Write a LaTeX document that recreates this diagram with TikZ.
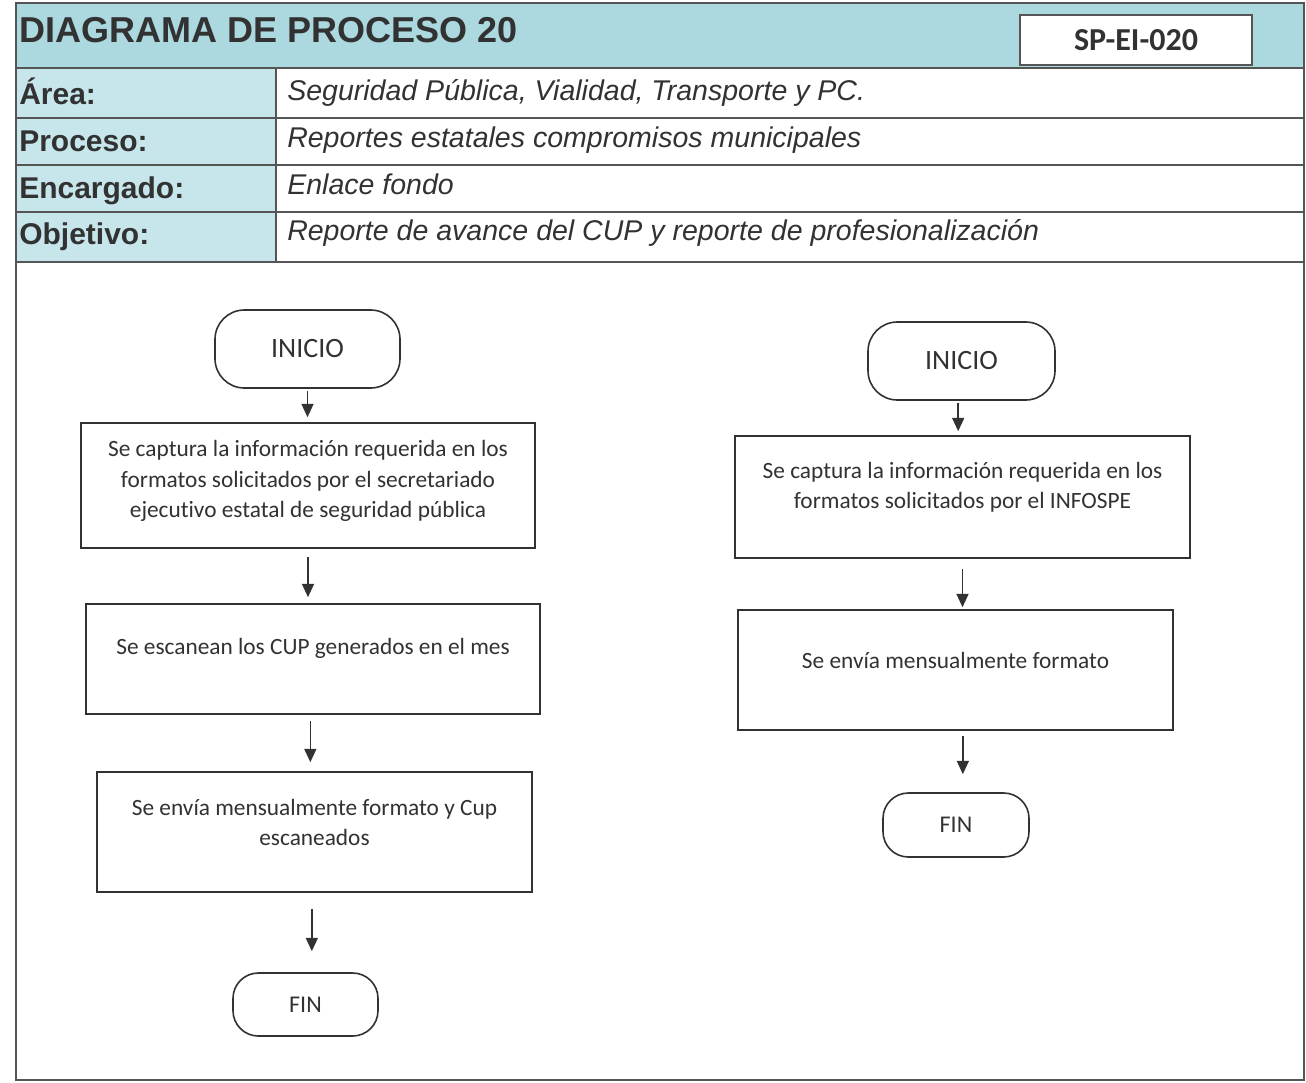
\documentclass[tikz,border=0pt]{standalone}
\usepackage{fontspec}
\setmainfont{Liberation Sans}
\newfontfamily\calfont[Ligatures=NoCommon]{Carlito}
\usetikzlibrary{arrows.meta}
\definecolor{ink}{RGB}{50,50,50}
\definecolor{hdr}{RGB}{172,216,223}
\definecolor{lbl}{RGB}{198,230,235}
\definecolor{framec}{RGB}{85,85,85}
\begin{document}
\begin{tikzpicture}[x=0.75pt,y=-0.75pt,
  term/.style={draw=ink, line width=1.2pt, rounded corners=22pt, fill=white, inner sep=0pt,
               font=\calfont\fontsize{21}{25}\selectfont, text=ink},
  stepbox/.style={draw=ink, line width=1.2pt, inner sep=0pt, fill=white},
  ftext/.style={font=\calfont\fontsize{17.5}{22.8}\selectfont, text=ink, align=center, inner sep=0pt},
  arr/.style={draw=ink, line width=1.1pt, -{Triangle[length=10pt,width=9pt]}},
  lab/.style={font=\bfseries\fontsize{22.5}{27}\selectfont, text=ink, anchor=base west, inner sep=0pt},
  val/.style={font=\itshape\fontsize{21.4}{26}\selectfont, text=ink, anchor=base west, inner sep=0pt},
  rule/.style={draw=framec, line width=1.5pt}]
\useasboundingbox (0,0) rectangle (1306,1082);
% header fills
\fill[hdr] (16,3) rectangle (1304,68);
\fill[lbl] (16,68) rectangle (276,262);
% rules
\draw[rule] (16,3) rectangle (1304,1080);
\draw[rule] (16,68) -- (1304,68);
\draw[rule] (16,118) -- (1304,118);
\draw[rule] (16,165) -- (1304,165);
\draw[rule] (16,212) -- (1304,212);
\draw[rule] (16,262) -- (1304,262);
\draw[rule] (276,68) -- (276,262);
% title
\node[font=\bfseries\fontsize{27}{32}\selectfont, text=ink, anchor=base west, inner sep=0pt] (title) at (19,42) {DIAGRAMA DE PROCESO 20};
\node[draw=framec, line width=1.5pt, fill=white, minimum width=174pt, minimum height=37.5pt, inner sep=0pt,
      font=\calfont\bfseries\fontsize{24}{28}\selectfont, text=ink] (code) at (1136,40) {SP-EI-020};
% rows
\node[lab] (l1) at (19,104) {Área:};
\node[lab] (l2) at (19,151) {Proceso:};
\node[lab] (l3) at (19,198) {Encargado:};
\node[lab] (l4) at (19,244) {Objetivo:};
\node[val] (v1) at (287,100) {Seguridad Pública, Vialidad, Transporte y PC.};
\node[val] (v2) at (287,147) {Reportes estatales compromisos municipales};
\node[val] (v3) at (287,194) {Enlace fondo};
\node[val] (v4) at (287,240) {Reporte de avance del CUP y reporte de profesionalización};
% left flow
\node[term, minimum width=138.75pt, minimum height=58.5pt] (i1) at (307.5,349) {INICIO};
\node[stepbox, minimum width=340.5pt, minimum height=93.75pt] (b1) at (308,485.5) {};
\node[ftext] (b1t) at (308,481) {Se captura la información requerida en los\\formatos solicitados por el secretariado\\ejecutivo estatal de seguridad pública};
\node[stepbox, minimum width=340.5pt, minimum height=82.5pt] (b2) at (313,659) {};
\node[ftext] (b2t) at (313,648) {Se escanean los CUP generados en el mes};
\node[stepbox, minimum width=326.25pt, minimum height=90pt] (b3) at (314.5,832) {};
\node[ftext] (b3t) at (314.5,822.5) {Se envía mensualmente formato y Cup\\escaneados};
\node[term, font=\calfont\fontsize{18}{22}\selectfont, minimum width=108.75pt, minimum height=47.25pt, rounded corners=19pt] (f1) at (305.5,1004.5) {FIN};
% right flow
\node[term, minimum width=140.25pt, minimum height=58.5pt] (i2) at (961.5,361) {INICIO};
\node[stepbox, minimum width=341.25pt, minimum height=91.5pt] (c1) at (962.5,497) {};
\node[ftext] (c1t) at (962.5,487) {Se captura la información requerida en los\\formatos solicitados por el INFOSPE};
\node[stepbox, minimum width=326.25pt, minimum height=90pt] (c2) at (955.5,670) {};
\node[ftext] (c2t) at (955.5,660) {Se envía mensualmente formato};
\node[term, font=\calfont\fontsize{18}{22}\selectfont, minimum width=109.5pt, minimum height=48pt, rounded corners=19pt] (f2) at (956,825) {FIN};
% arrows left
\draw[arr, shorten <=1.5pt, shorten >=3.75pt] (i1.south) -- (i1.south |- b1.north);
\draw[arr, shorten <=6pt, shorten >=4.5pt] (b1.south) -- (b1.south |- b2.north);
\draw[arr, shorten <=4.5pt, shorten >=6.75pt, transform canvas={xshift=-2pt}] (b2.south) -- (b2.south |- b3.north);
\draw[arr, shorten <=12pt, shorten >=15.75pt, transform canvas={xshift=-2pt}] (b3.south) -- (b3.south |- f1.north);
% arrows right
\draw[arr, shorten <=1.5pt, shorten >=3pt, transform canvas={xshift=-2.5pt}] (i2.south) -- (i2.south |- c1.north);
\draw[arr, shorten <=7.5pt, shorten >=1.5pt] (c1.south) -- (c1.south |- c2.north);
\draw[arr, shorten <=3.75pt, shorten >=13.5pt, transform canvas={xshift=5.5pt}] (c2.south) -- (c2.south |- f2.north);
\end{tikzpicture}
\end{document}
